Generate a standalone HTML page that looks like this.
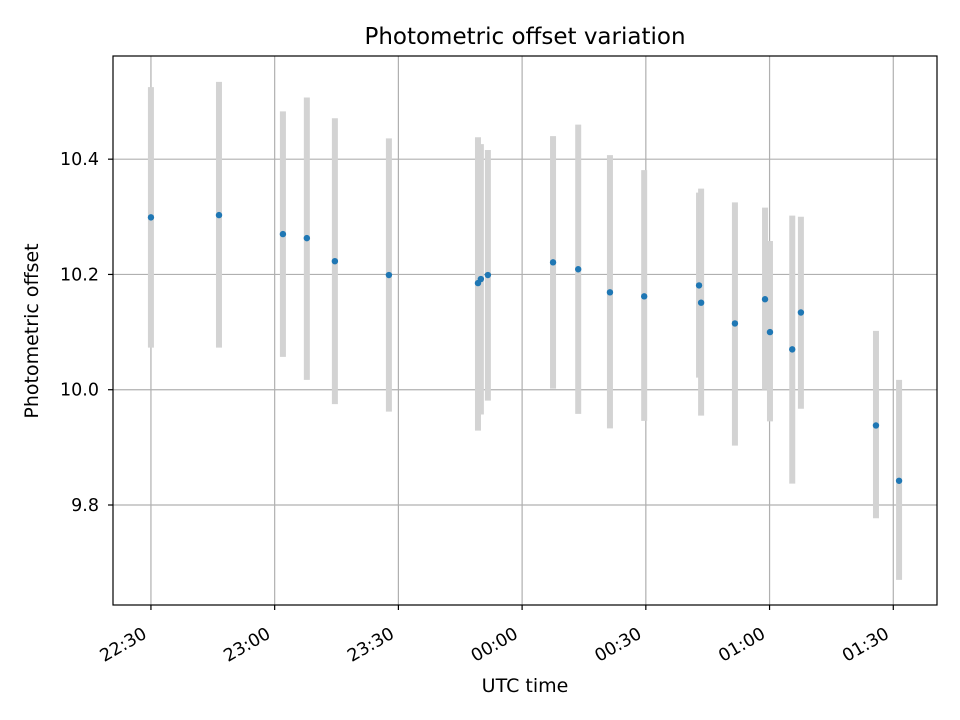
<!DOCTYPE html>
<html><head><meta charset="utf-8"><style>
html,body{margin:0;padding:0;background:#fff;}
svg{display:block;font-family:"DejaVu Sans","Liberation Sans",sans-serif;}
</style></head><body>
<svg id="chart" width="960" height="720" viewBox="0 0 960 720" xmlns="http://www.w3.org/2000/svg">
<rect width="960" height="720" fill="#fff"/>
<text x="525" y="44" text-anchor="middle" font-size="23" fill="#000">Photometric offset variation</text>
<text x="525" y="692" text-anchor="middle" font-size="19" fill="#000">UTC time</text>
<text x="38" y="331" text-anchor="middle" font-size="19" fill="#000" transform="rotate(-90 38 331)">Photometric offset</text>
<g id="grid"></g>
<g id="bars"></g>
<g id="pts"></g>
<rect x="113" y="56" width="824" height="549" fill="none" stroke="#000" stroke-width="1.2"/>
<g id="ticks"></g>
</svg>
<script>
// minutes after 22:30 UTC
const times = [0,16.5,32,37.8,44.6,57.7,79.3,80,81.7,97.5,103.6,111.3,119.6,132.9,133.4,141.6,148.9,150.1,155.5,157.6,175.8,181.4];
const offsets = [10.299,10.303,10.27,10.263,10.223,10.199,10.185,10.192,10.199,10.221,10.209,10.169,10.162,10.181,10.151,10.115,10.157,10.1,10.07,10.134,9.938,9.842];
const upper = [10.525,10.534,10.483,10.507,10.471,10.436,10.438,10.426,10.416,10.44,10.46,10.407,10.381,10.342,10.349,10.325,10.316,10.258,10.302,10.3,10.102,10.017];
const lower = [10.073,10.073,10.057,10.017,9.975,9.962,9.929,9.957,9.981,10.002,9.958,9.933,9.946,10.021,9.955,9.903,10.0,9.945,9.837,9.967,9.777,9.67];
const xTickMins = [0,30,60,90,120,150,180];
const xTickLabels = ["22:30","23:00","23:30","00:00","00:30","01:00","01:30"];
const yTicks = [9.8,10.0,10.2,10.4];
const yTickLabels = ["9.8","10.0","10.2","10.4"];

const NS="http://www.w3.org/2000/svg";
const L=113,R=937,T=56,B=605;
const xMin=-9.2,xMax=190.6,yMin=9.6265,yMax=10.579;
const xs=m=>L+(m-xMin)/(xMax-xMin)*(R-L);
const ys=v=>B-(v-yMin)/(yMax-yMin)*(B-T);
function mk(tag,attrs,parent){const e=document.createElementNS(NS,tag);for(const k in attrs)e.setAttribute(k,attrs[k]);parent.appendChild(e);return e;}
const grid=document.getElementById('grid'),ticks=document.getElementById('ticks'),bars=document.getElementById('bars'),pts=document.getElementById('pts');
xTickMins.forEach((m,i)=>{
  const x=xs(m);
  const g=mk('line',{x1:x,x2:x,y1:T,y2:B,stroke:'#b0b0b0','stroke-width':1.2},grid);
  
  
  const t=mk('line',{x1:x,x2:x,y1:B,y2:B+5,stroke:'#000','stroke-width':1.2},ticks);
  
  
  const px=x-3,py=B+32;
  const lb=mk('text',{x:px,y:py,'text-anchor':'end','font-size':17.5,transform:`rotate(-30 ${px} ${py})`},ticks);
  lb.textContent=xTickLabels[i];
  
  
});
yTicks.forEach((v,i)=>{
  const y=ys(v);
  const g=mk('line',{x1:L,x2:R,y1:y,y2:y,stroke:'#b0b0b0','stroke-width':1.2},grid);
  
  
  const t=mk('line',{x1:L-5,x2:L,y1:y,y2:y,stroke:'#000','stroke-width':1.2},ticks);
  
  
  const lb=mk('text',{x:L-14,y:y+6,'text-anchor':'end','font-size':17.5},ticks);
  lb.textContent=yTickLabels[i];
  
  
});
times.forEach((m,i)=>{
  const x=xs(m);
  const b=mk('line',{x1:x,x2:x,y1:ys(upper[i]),y2:ys(lower[i]),stroke:'#d3d3d3','stroke-width':6},bars);
  
  
  const c=mk('circle',{cx:x,cy:ys(offsets[i]),r:3.2,fill:'#1f77b4'},pts);
  
  
});
</script>
</body></html>
